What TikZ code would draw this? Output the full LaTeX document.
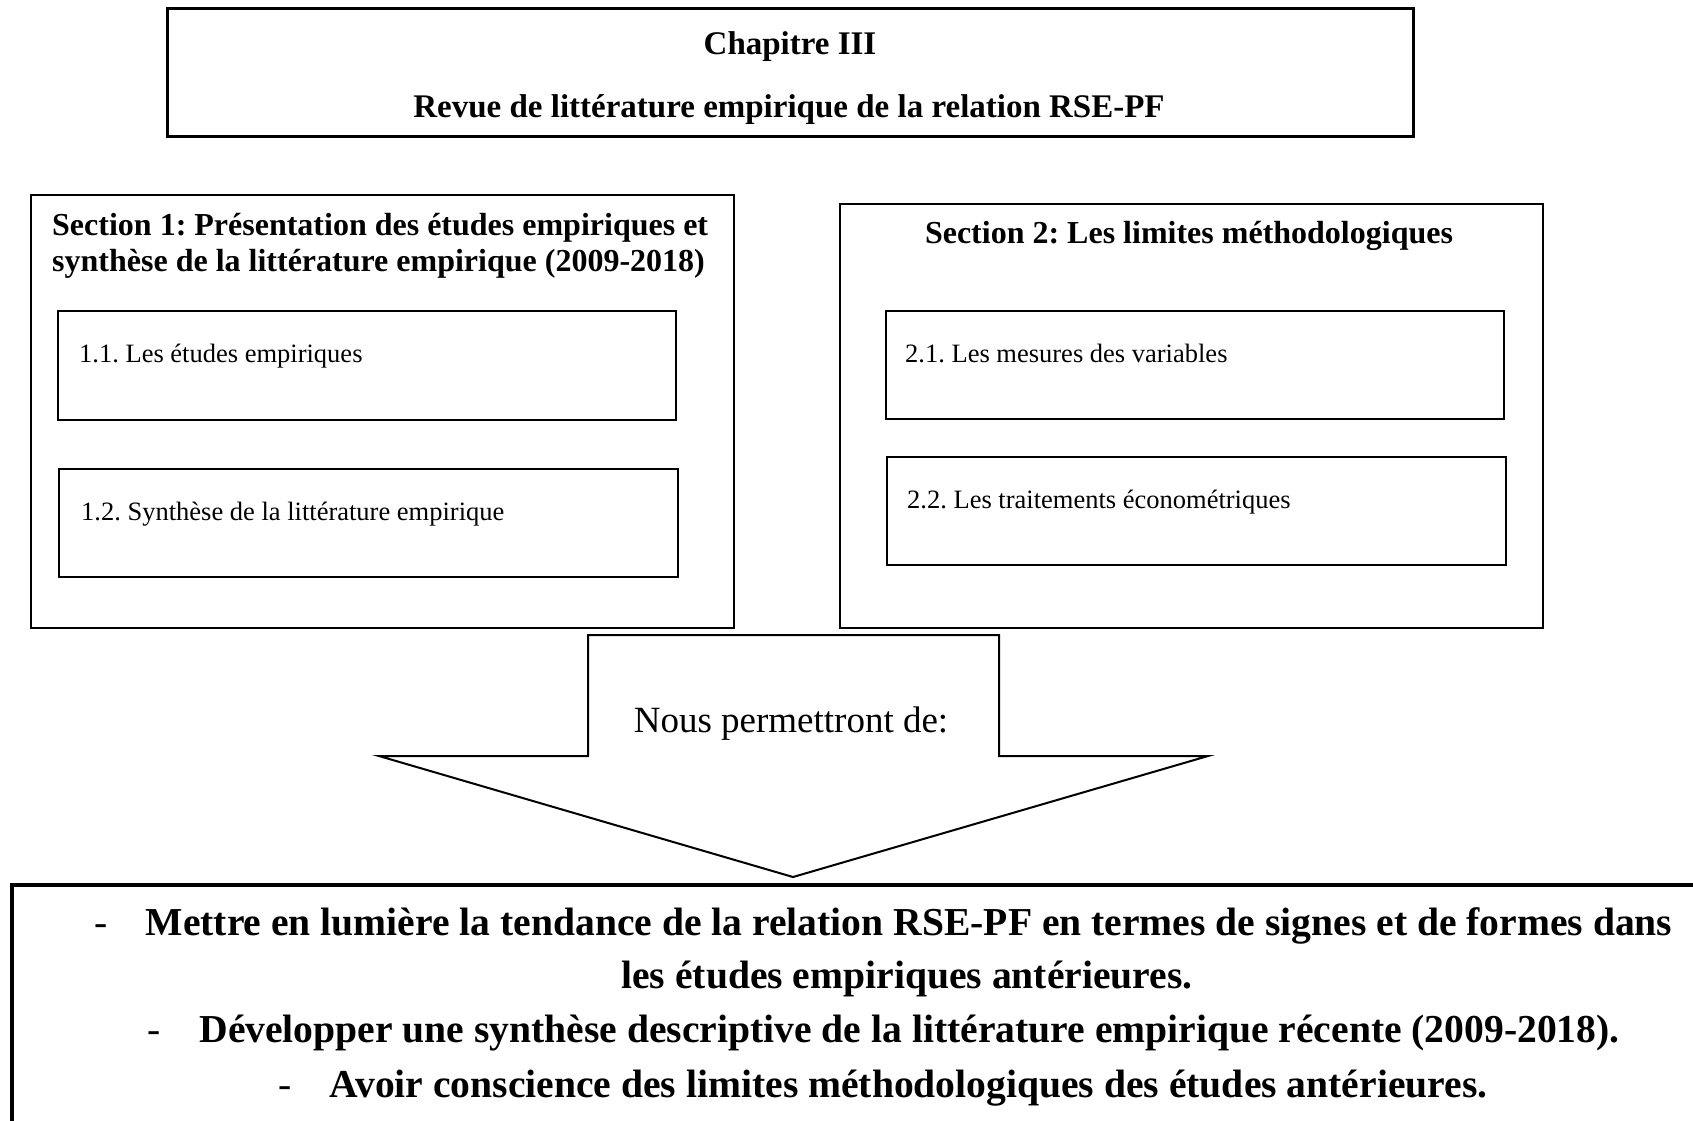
\documentclass[tikz,border=0pt]{standalone}
\usepackage{fontspec}
\setmainfont{Liberation Serif}
\frenchspacing
\begin{document}
\frenchspacing
\begin{tikzpicture}[x=1pt,y=-1pt,
  frame/.style={draw, line width=2pt, inner sep=0pt, anchor=north west},
  thickframe/.style={frame, line width=3pt},
  txt/.style={inner sep=0pt},
  chapfont/.style={txt, font=\fontsize{33}{40}\selectfont\bfseries},
  secfont/.style={txt, font=\fontsize{32}{38}\selectfont\bfseries},
  subfont/.style={txt, font=\fontsize{26.5}{32}\selectfont, anchor=base west},
  arrowfont/.style={txt, font=\fontsize{37}{44}\selectfont},
  bulfont/.style={txt, font=\fontsize{39.6}{48}\selectfont\bfseries, anchor=base},
  dashfont/.style={txt, font=\fontsize{39.6}{48}\selectfont, anchor=base east}
]
\useasboundingbox (0,0) rectangle (1693,1120);
\clip (0,0) rectangle (1693,1120);
\fill[white] (0,0) rectangle (1693,1120);

% Chapter box
\node[thickframe, minimum width=1246pt, minimum height=128pt] (chap) at (166,7) {};
\node[chapfont, anchor=base] (chapt) at (790,54) {Chapitre III};
\node[chapfont, anchor=base] (revue) at (789,117) {Revue de littérature empirique de la relation RSE-PF};

% Section 1
\node[frame, minimum width=703pt, minimum height=433pt] (s1) at (30,194) {};
\node[secfont, anchor=base west] (s1a) at (52,235) {Section 1: Présentation des études empiriques et};
\node[secfont, anchor=base west] (s1b) at (52,271) {synthèse de la littérature empirique (2009-2018)};
\node[frame, minimum width=618pt, minimum height=109pt] (b11) at (57,310) {};
\node[subfont] (t11) at (79,362) {1.1. Les études empiriques};
\node[frame, minimum width=619pt, minimum height=108pt] (b12) at (58,468) {};
\node[subfont] (t12) at (81,520) {1.2. Synthèse de la littérature empirique};

% Section 2
\node[frame, minimum width=703pt, minimum height=424pt] (s2) at (839,203) {};
\node[secfont, anchor=base] (s2a) at (1189,243) {Section 2: Les limites méthodologiques};
\node[frame, minimum width=618pt, minimum height=108pt] (b21) at (885,310) {};
\node[subfont] (t21) at (905,362) {2.1. Les mesures des variables};
\node[frame, minimum width=619pt, minimum height=108pt] (b22) at (886,456) {};
\node[subfont] (t22) at (907,508) {2.2. Les traitements économétriques};

% Block arrow
\coordinate (a1) at (588,635);
\coordinate (a2) at (999,635);
\coordinate (a3) at (999,756);
\coordinate (a4) at (1208,756);
\coordinate (tip) at (793,877);
\coordinate (a6) at (379,756);
\coordinate (a7) at (588,756);
\draw[line width=2pt, fill=white, line join=miter] (a1) -- (a2) -- (a3) -- (a4) -- (tip) -- (a6) -- (a7) -- cycle;
\node[arrowfont, anchor=base] (nous) at (791,732) {Nous permettront de:};

% Bottom box
\node[frame, line width=3.5pt, minimum width=1750pt, minimum height=400pt] (bottom) at (10,883) {};
\node[bulfont] (l1) at (909,935) {Mettre en lumière la tendance de la relation RSE-PF en termes de signes et de formes dans};
\node[bulfont] (l2) at (907,988) {les études empiriques antérieures.};
\node[bulfont] (l3) at (909.5,1042) {Développer une synthèse descriptive de la littérature empirique récente (2009-2018).};
\node[bulfont] (l4) at (908.5,1097) {Avoir conscience des limites méthodologiques des études antérieures.};
\node[dashfont] (d1) at ([xshift=-38pt]l1.base west) {-};
\node[dashfont] (d3) at ([xshift=-38pt]l3.base west) {-};
\node[dashfont] (d4) at ([xshift=-38pt]l4.base west) {-};
\end{tikzpicture}
\end{document}
